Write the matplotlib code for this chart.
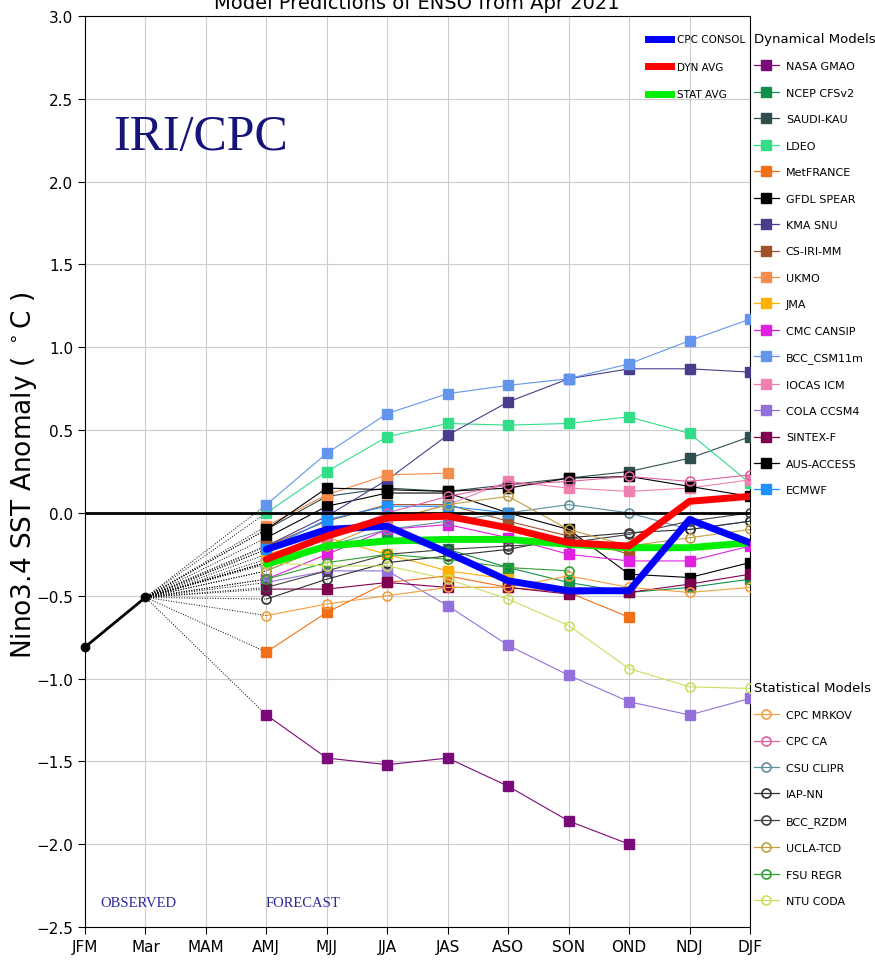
import numpy as np
import matplotlib.pyplot as plt
from matplotlib.lines import Line2D

nan = np.nan

months = ["JFM", "Mar", "MAM", "AMJ", "MJJ", "JJA", "JAS", "ASO", "SON", "OND", "NDJ", "DJF"]
obs_months = ["JFM", "Mar"]
obs_values = [-0.81, -0.51]
fcst_months = ["AMJ", "MJJ", "JJA", "JAS", "ASO", "SON", "OND", "NDJ", "DJF"]

# consolidated / averages
cpc_consol = [-0.22, -0.10, -0.08, -0.24, -0.41, -0.47, -0.47, -0.04, -0.18]
dyn_avg = [-0.28, -0.14, -0.03, -0.02, -0.09, -0.18, -0.20, 0.07, 0.10]
stat_avg = [-0.31, -0.20, -0.17, -0.16, -0.16, -0.19, -0.21, -0.21, -0.18]

# dynamical models
nasa_gmao = [-1.22, -1.48, -1.52, -1.48, -1.65, -1.86, -2.00, nan, nan]
ncep_cfsv2 = [-0.30, -0.20, -0.15, -0.22, -0.33, -0.42, -0.48, -0.45, -0.40]
saudi_kau = [-0.10, 0.10, 0.15, 0.13, 0.17, 0.21, 0.25, 0.33, 0.46]
ldeo = [0.00, 0.25, 0.46, 0.54, 0.53, 0.54, 0.58, 0.48, 0.18]
metfrance = [-0.84, -0.60, -0.42, -0.38, -0.45, -0.48, -0.63, nan, nan]
gfdl_spear = [-0.15, 0.04, 0.12, 0.12, 0.00, -0.10, -0.37, -0.39, -0.30]
kma_snu = [-0.20, -0.02, 0.20, 0.47, 0.67, 0.81, 0.87, 0.87, 0.85]
cs_iri_mm = [-0.20, -0.05, 0.05, 0.05, -0.05, -0.14, -0.25, nan, nan]
ukmo = [-0.08, 0.11, 0.23, 0.24, nan, nan, nan, nan, nan]
jma = [-0.25, -0.15, -0.25, -0.35, -0.40, nan, nan, nan, nan]
cmc_cansip = [-0.40, -0.25, -0.10, -0.07, -0.15, -0.25, -0.29, -0.29, -0.20]
bcc_csm11m = [0.05, 0.36, 0.60, 0.72, 0.77, 0.81, 0.90, 1.04, 1.17]
iocas_icm = [-0.30, -0.15, -0.05, 0.05, 0.19, 0.15, 0.13, 0.15, 0.20]
cola_ccsm4 = [-0.42, -0.35, -0.35, -0.56, -0.80, -0.98, -1.14, -1.22, -1.12]
sintex_f = [-0.46, -0.46, -0.42, -0.45, -0.45, -0.49, -0.48, -0.43, -0.37]
aus_access = [-0.10, 0.15, 0.14, 0.13, 0.15, 0.21, 0.22, 0.16, 0.10]
ecmwf = [-0.22, -0.04, 0.04, 0.04, 0.00, nan, nan, nan, nan]

dyn_names = ["NASA GMAO", "NCEP CFSv2", "SAUDI-KAU", "LDEO", "MetFRANCE", "GFDL SPEAR",
             "KMA SNU", "CS-IRI-MM", "UKMO", "JMA", "CMC CANSIP", "BCC_CSM11m",
             "IOCAS ICM", "COLA CCSM4", "SINTEX-F", "AUS-ACCESS", "ECMWF"]
dyn_colors = ["#7a0a7a", "#12904a", "#2f4f4f", "#33dd88", "#f07018", "#000000",
              "#483d8b", "#a0522d", "#f58b4c", "#ffb000", "#e020e0", "#6495ed",
              "#f080b0", "#9370db", "#800050", "#000000", "#1e90ff"]
dyn_values = [nasa_gmao, ncep_cfsv2, saudi_kau, ldeo, metfrance, gfdl_spear,
              kma_snu, cs_iri_mm, ukmo, jma, cmc_cansip, bcc_csm11m,
              iocas_icm, cola_ccsm4, sintex_f, aus_access, ecmwf]

# statistical models
cpc_mrkov = [-0.62, -0.55, -0.50, -0.45, -0.45, -0.38, -0.45, -0.48, -0.45]
cpc_ca = [-0.30, -0.15, 0.00, 0.10, 0.17, 0.19, 0.22, 0.19, 0.23]
csu_clipr = [-0.35, -0.20, -0.10, -0.05, 0.00, 0.05, 0.00, -0.10, -0.05]
iap_nn = [-0.52, -0.40, -0.30, -0.26, -0.22, -0.15, -0.12, -0.10, -0.05]
bcc_rzdm = [-0.45, -0.35, -0.25, -0.22, -0.20, -0.18, -0.13, -0.05, 0.00]
ucla_tcd = [-0.35, -0.20, -0.05, 0.05, 0.10, -0.10, -0.20, -0.15, -0.10]
fsu_regr = [-0.40, -0.30, -0.25, -0.28, -0.33, -0.35, nan, nan, nan]
ntu_coda = [-0.30, -0.32, -0.32, -0.40, -0.52, -0.68, -0.94, -1.05, -1.06]

stat_names = ["CPC MRKOV", "CPC CA", "CSU CLIPR", "IAP-NN", "BCC_RZDM",
              "UCLA-TCD", "FSU REGR", "NTU CODA"]
stat_colors = ["#f0a040", "#e060a0", "#5f8fa0", "#303030", "#404040",
               "#c0a040", "#30a030", "#c8e060"]
stat_values = [cpc_mrkov, cpc_ca, csu_clipr, iap_nn, bcc_rzdm, ucla_tcd, fsu_regr, ntu_coda]

avg_names = ["CPC CONSOL", "DYN AVG", "STAT AVG"]
avg_colors = ["#0000ff", "#ff0000", "#00ee00"]
avg_values = [cpc_consol, dyn_avg, stat_avg]
avg_zorder = [7, 8, 6]

plt.rcParams["font.family"] = ["DejaVu Sans"]

fig = plt.figure(figsize=(8.75, 9.62), dpi=100)
ax = fig.add_axes([85 / 875, 34 / 962, 665 / 875, 911 / 962])

xpos = {m: i for i, m in enumerate(months)}
fx = [xpos[m] for m in fcst_months]
ox = [xpos[m] for m in obs_months]

# dotted connectors from last observation to first forecast
for vals in dyn_values + stat_values + avg_values:
    ax.plot([ox[-1], fx[0]], [obs_values[-1], vals[0]], color="black",
            linestyle=":", linewidth=0.7, zorder=2)

for name, c, vals in zip(dyn_names, dyn_colors, dyn_values):
    ax.plot(fx, vals, color=c, marker="s", markersize=7, linewidth=0.8, zorder=3)

for name, c, vals in zip(stat_names, stat_colors, stat_values):
    ax.plot(fx, vals, color=c, marker="o", markersize=6.5, markerfacecolor="none",
            markeredgewidth=1.2, linewidth=0.8, zorder=3)

ax.axhline(0, color="black", linewidth=2, zorder=5)

for name, c, vals, z in zip(avg_names, avg_colors, avg_values, avg_zorder):
    ax.plot(fx, vals, color=c, linewidth=5, solid_capstyle="round", zorder=z)

ax.plot(ox, obs_values, color="black", linewidth=2, marker="o", markersize=6,
        zorder=9, clip_on=False)

ax.set_xlim(0, 11)
ax.set_ylim(-2.5, 3.0)
ax.set_xticks(range(len(months)), months, fontsize=11)
yt = np.arange(-2.5, 3.01, 0.5)
ax.set_yticks(yt, [f"{v:.1f}".replace("-", "\u2212") for v in yt], fontsize=11)
ax.grid(color="#cccccc", linewidth=0.8)
ax.set_axisbelow(True)
ax.tick_params(length=5)

fig.text(24 / 875, (962 - 475) / 962, r"Nino3.4 SST Anomaly ( $^\circ$C )",
         rotation=90, ha="center", va="center", fontsize=19)
fig.text(417 / 875, 1 - 9 / 962, "Model Predictions of ENSO from Apr 2021",
         ha="center", va="baseline", fontsize=14)

ax.text(0.042, 0.868, "IRI/CPC", transform=ax.transAxes, fontsize=36,
        family="Liberation Serif", color="#14147a", va="center", ha="left")
ax.text(0.023, 0.027, "OBSERVED", transform=ax.transAxes, fontsize=10.5,
        family="Liberation Serif", color="#2a2a9a", va="center", ha="left")
ax.text(0.272, 0.027, "FORECAST", transform=ax.transAxes, fontsize=10.5,
        family="Liberation Serif", color="#2a2a9a", va="center", ha="left")

leg_kw = dict(frameon=False, fontsize=8, borderpad=0.2, borderaxespad=0,
              labelspacing=1.48, handlelength=2.3, handletextpad=0.6,
              alignment="left", title_fontsize=9.5)

avg_handles = [Line2D([], [], color=c, linewidth=5) for c in avg_colors]
leg1 = ax.legend(avg_handles, avg_names, loc="upper left",
                 bbox_to_anchor=(0.843, 0.982), frameon=False, fontsize=7.5,
                 borderpad=0.2, borderaxespad=0, labelspacing=1.68,
                 handlelength=2.2, handletextpad=0.6)
ax.add_artist(leg1)

dyn_handles = [Line2D([], [], color=c, marker="s", markersize=7, linewidth=0.9)
               for c in dyn_colors]
leg2 = ax.legend(dyn_handles, dyn_names, loc="upper left", title="Dynamical Models",
                 bbox_to_anchor=(1.002, 0.985), **leg_kw)
ax.add_artist(leg2)

stat_handles = [Line2D([], [], color=c, marker="o", markersize=6.5, markerfacecolor="none",
                       markeredgewidth=1.2, linewidth=0.9) for c in stat_colors]
leg3 = ax.legend(stat_handles, stat_names, loc="upper left", title="Statistical Models",
                 bbox_to_anchor=(1.002, 0.273), **leg_kw)

fig.savefig("out.png", dpi=100)
